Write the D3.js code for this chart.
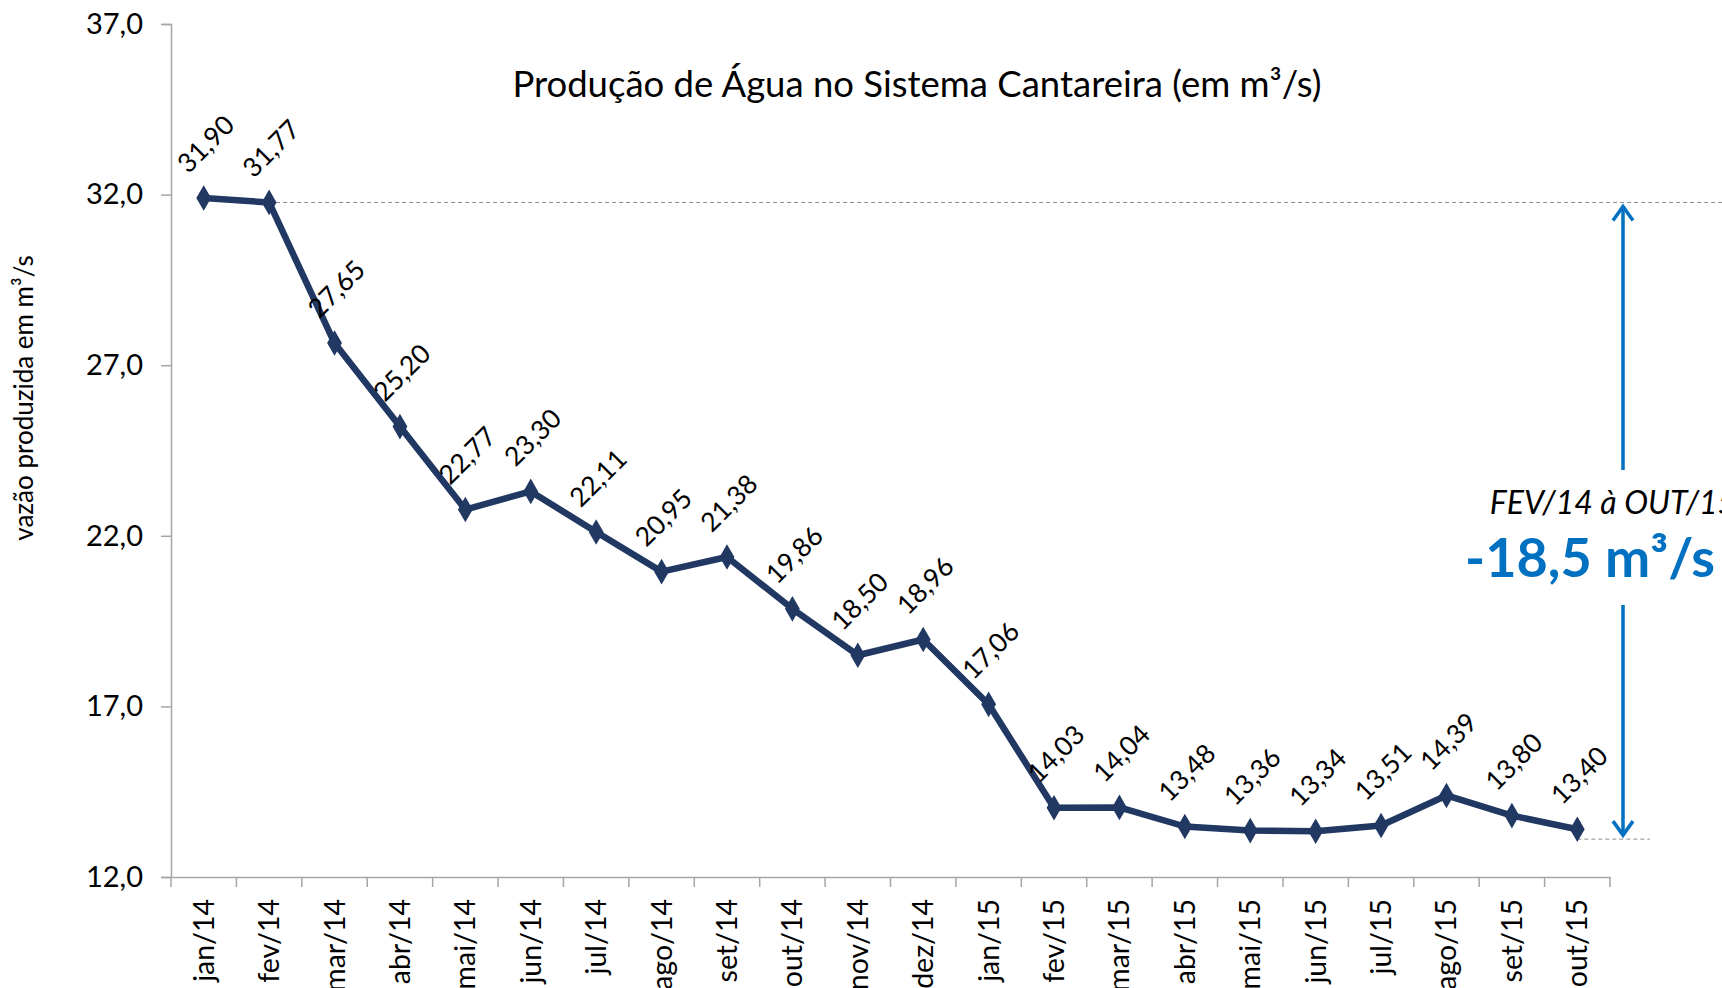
<!DOCTYPE html>
<html>
<head>
<meta charset="utf-8">
<script src="https://cdn.jsdelivr.net/npm/d3@7"></script>
<style>
body { margin: 0; background: #fff; }
svg { display: block; }
</style>
</head>
<body>
<svg id="chart" width="1722" height="988"></svg>
<script>
// dados
var months = ["jan/14","fev/14","mar/14","abr/14","mai/14","jun/14","jul/14","ago/14","set/14","out/14","nov/14","dez/14",
              "jan/15","fev/15","mar/15","abr/15","mai/15","jun/15","jul/15","ago/15","set/15","out/15"]
var vazao = [31.90,31.77,27.65,25.20,22.77,23.30,22.11,20.95,21.38,19.86,18.50,18.96,
             17.06,14.03,14.04,13.48,13.36,13.34,13.51,14.39,13.80,13.40]
var yTicks = [12,17,22,27,32,37]
var annTop = 31.77
var annBottom = 13.11

var svg = d3.select("#chart")
var font = "Lato, 'Open Sans', sans-serif"
var br = d3.formatLocale({decimal: ",", thousands: ".", grouping: [3], currency: ["R$", ""]})

var margin = {left: 171, right: 112, top: 24, bottom: 111}
var width = 1722 - margin.left - margin.right
var height = 988 - margin.top - margin.bottom

var x = d3.scaleBand().domain(months).range([margin.left, margin.left + width])
var y = d3.scaleLinear().domain([12, 37]).range([margin.top + height, margin.top])

// eixo y
var yAxis = svg.append("g")
    .attr("transform", "translate(" + margin.left + ",0)")
    .call(d3.axisLeft(y).tickValues(yTicks).tickSize(10).tickPadding(18).tickFormat(br.format(".1f")))
yAxis.select(".domain").attr("stroke", "#a6a6a6").attr("stroke-width", 1.5)
yAxis.selectAll(".tick line").attr("stroke", "#a6a6a6").attr("stroke-width", 1.5)
yAxis.selectAll("text").attr("font-family", font).attr("font-size", 29).attr("fill", "#000")

// eixo x
var xAxis = svg.append("g")
    .attr("transform", "translate(0," + (margin.top + height) + ")")
    .call(d3.axisBottom(x).tickSize(0).tickSizeOuter(0))
xAxis.select(".domain").attr("stroke", "#a6a6a6").attr("stroke-width", 1.5)
xAxis.selectAll("text")
    .attr("font-family", font).attr("font-size", 28.5).attr("fill", "#000")
    .attr("text-anchor", "end")
    .attr("transform", "rotate(-90)")
    .attr("x", -22).attr("y", 0).attr("dy", "0.35em")
// marcas entre categorias
svg.append("g").selectAll("line")
    .data(months.concat(["fim"]))
    .enter().append("line")
    .attr("x1", function(d, i) { return margin.left + i * x.step() })
    .attr("x2", function(d, i) { return margin.left + i * x.step() })
    .attr("y1", margin.top + height)
    .attr("y2", margin.top + height + 10)
    .attr("stroke", "#a6a6a6").attr("stroke-width", 1.5)

// titulo do eixo y
svg.append("text")
    .attr("transform", "translate(33,398) rotate(-90)")
    .attr("text-anchor", "middle")
    .attr("font-family", font).attr("font-size", 26)
    .text("vazão produzida em m³/s")

// titulo
svg.append("text")
    .attr("x", 917).attr("y", 97)
    .attr("text-anchor", "middle")
    .attr("font-family", font).attr("font-size", 36.5)
    .text("Produção de Água no Sistema Cantareira (em m³/s)")

// linhas tracejadas de referencia
var cx = function(i) { return x(months[i]) + x.bandwidth() / 2 }
svg.append("line")
    .attr("x1", cx(1)).attr("x2", 1722)
    .attr("y1", y(annTop)).attr("y2", y(annTop))
    .attr("stroke", "#8c8c8c").attr("stroke-dasharray", "4,3").attr("stroke-width", 1)
svg.append("line")
    .attr("x1", cx(21)).attr("x2", 1650)
    .attr("y1", y(annBottom)).attr("y2", y(annBottom))
    .attr("stroke", "#8c8c8c").attr("stroke-dasharray", "4,3").attr("stroke-width", 1)

// seta
var ax = 1623
var blue = "#0070c0"
svg.append("line").attr("x1", ax).attr("x2", ax).attr("y1", y(annTop) + 4).attr("y2", 470)
    .attr("stroke", blue).attr("stroke-width", 3.5)
svg.append("line").attr("x1", ax).attr("x2", ax).attr("y1", 605).attr("y2", y(annBottom) - 4)
    .attr("stroke", blue).attr("stroke-width", 3.5)
svg.append("path")
    .attr("d", "M" + (ax - 10) + "," + (y(annTop) + 18) + "L" + ax + "," + (y(annTop) + 4) + "L" + (ax + 10) + "," + (y(annTop) + 18))
    .attr("fill", "none").attr("stroke", blue).attr("stroke-width", 3.5)
svg.append("path")
    .attr("d", "M" + (ax - 10) + "," + (y(annBottom) - 18) + "L" + ax + "," + (y(annBottom) - 4) + "L" + (ax + 10) + "," + (y(annBottom) - 18))
    .attr("fill", "none").attr("stroke", blue).attr("stroke-width", 3.5)

svg.append("text")
    .attr("x", 1613).attr("y", 514)
    .attr("text-anchor", "middle")
    .attr("font-family", font).attr("font-size", 32).attr("font-style", "italic")
    .text("FEV/14 à OUT/15")
svg.append("text")
    .attr("x", 1590).attr("y", 577)
    .attr("text-anchor", "middle")
    .attr("font-family", font).attr("font-size", 54).attr("font-weight", "bold").attr("fill", blue)
    .text("-18,5 m³/s")

// linha da serie
var navy = "#213863"
var line = d3.line()
    .x(function(d, i) { return cx(i) })
    .y(function(d) { return y(d) })
svg.append("path")
    .datum(vazao)
    .attr("d", line)
    .attr("fill", "none").attr("stroke", navy).attr("stroke-width", 6.5).attr("stroke-linejoin", "round")

svg.append("g").selectAll("path")
    .data(vazao)
    .enter().append("path")
    .attr("d", d3.symbol().type(d3.symbolDiamond).size(190))
    .attr("transform", function(d, i) { return "translate(" + cx(i) + "," + y(d) + ")" })
    .attr("fill", navy)

// rotulos
svg.append("g").selectAll("text")
    .data(vazao)
    .enter().append("text")
    .attr("transform", function(d, i) { return "translate(" + (cx(i) + 2) + "," + (y(d) - 54) + ") rotate(-45)" })
    .attr("text-anchor", "middle").attr("dy", "0.35em")
    .attr("font-family", font).attr("font-size", 26.5)
    .text(function(d) { return br.format(".2f")(d) })
</script>
</body>
</html>
